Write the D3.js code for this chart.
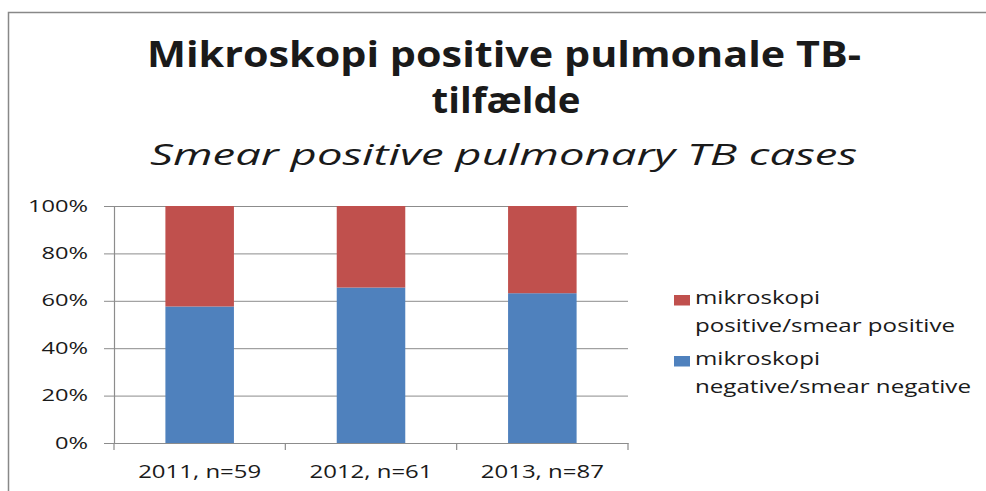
<!DOCTYPE html>
<html>
<head>
<meta charset="utf-8">
<script src="https://cdn.jsdelivr.net/npm/d3@7"></script>
<style>
  html, body { margin: 0; overflow: hidden; background: #fff; }
  svg { display: block; }
  text { font-family: "Open Sans", sans-serif; fill: #1a1a1a; }
</style>
</head>
<body>
<div id="chart"></div>
<script>
// data (share of cases per year)
var years = ["2011, n=59", "2012, n=61", "2013, n=87"];
var negativeShare = [0.576, 0.656, 0.632];
var positiveShare = [0.424, 0.344, 0.368];
var seriesNames = ["mikroskopi negative/smear negative", "mikroskopi positive/smear positive"];
var tickValues = [0, 0.2, 0.4, 0.6, 0.8, 1];

var width = 986, height = 491;
var plot = { left: 114, right: 628, top: 206, bottom: 443 };
var colors = { neg: "#4f81bd", pos: "#c0504d", grid: "#8c8c8c" };

var svg = d3.select("#chart")
  .append("svg")
  .attr("width", width)
  .attr("height", height);

// stretch text sideways, the picture is wider than tall
function stretch(sel, k) {
  sel.each(function() {
    var w = this.getComputedTextLength();
    d3.select(this).attr("textLength", w * k).attr("lengthAdjust", "spacingAndGlyphs");
  });
}
function factor(sel, target) {
  return target / sel.node().getComputedTextLength();
}

// chart border, only top and left edges are inside the picture
svg.append("path")
  .attr("d", d3.line()([[8.5, height], [8.5, 12.5], [width, 12.5]]))
  .attr("fill", "none")
  .attr("stroke", "#888")
  .attr("stroke-width", 1.5);

// titles
var t1 = svg.append("text")
  .attr("x", 504).attr("y", 66.5)
  .attr("text-anchor", "middle")
  .style("font-size", "35px").style("font-weight", "bold")
  .text("Mikroskopi positive pulmonale TB-");
stretch(t1, factor(t1, 714));

var t2 = svg.append("text")
  .attr("x", 506).attr("y", 113)
  .attr("text-anchor", "middle")
  .style("font-size", "35px").style("font-weight", "bold")
  .text("tilfælde");
stretch(t2, factor(t2, 149));

var t3 = svg.append("text")
  .attr("x", 503.5).attr("y", 165)
  .attr("text-anchor", "middle")
  .style("font-size", "30px").style("font-style", "italic")
  .text("Smear positive pulmonary TB cases");
stretch(t3, factor(t3, 707));

// scales
var x = d3.scaleBand()
  .domain(years)
  .range([plot.left, plot.right])
  .paddingInner(0.6)
  .paddingOuter(0.3);

var y = d3.scaleLinear()
  .domain([0, 1])
  .range([plot.bottom, plot.top]);

// gridlines
svg.append("g")
  .attr("class", "grid")
  .attr("transform", "translate(" + plot.left + ",0)")
  .call(d3.axisLeft(y)
    .tickValues(tickValues)
    .tickSize(-(plot.right - plot.left))
    .tickFormat(""))
  .call(function(g) {
    g.select(".domain").remove();
    g.selectAll("line").attr("stroke", colors.grid);
  });

// y axis
var yAxis = svg.append("g")
  .attr("transform", "translate(" + plot.left + ",0)")
  .call(d3.axisLeft(y)
    .tickValues(tickValues)
    .tickSize(10)
    .tickSizeOuter(0)
    .tickPadding(16)
    .tickFormat(d3.format(".0%")));
yAxis.select(".domain").attr("stroke", colors.grid).attr("stroke-width", 1.2);
yAxis.selectAll("line").attr("stroke", colors.grid);
yAxis.selectAll("text")
  .style("font-size", "16px")
  .style("font-family", "\"Open Sans\", sans-serif")
  .attr("fill", "#1a1a1a");
var kTick = factor(yAxis.selectAll("text").filter(function(d) { return d === 1; }), 60);
stretch(yAxis.selectAll("text"), kTick);

// x axis: labels in band centres, ticks on band edges
var xAxis = svg.append("g")
  .attr("transform", "translate(0," + plot.bottom + ")")
  .call(d3.axisBottom(x).tickSize(0).tickPadding(22));
xAxis.select(".domain").attr("stroke", colors.grid);
xAxis.selectAll("text")
  .style("font-size", "18px")
  .style("font-family", "\"Open Sans\", sans-serif")
  .attr("fill", "#1a1a1a");
var kCat = factor(xAxis.selectAll("text").filter(function(d) { return d === years[1]; }), 123);
stretch(xAxis.selectAll("text"), kCat);

xAxis.selectAll(".edge")
  .data(d3.range(years.length + 1))
  .enter().append("line")
  .attr("class", "edge")
  .attr("x1", function(i) { return plot.left + i * x.step(); })
  .attr("x2", function(i) { return plot.left + i * x.step(); })
  .attr("y1", 0).attr("y2", 7)
  .attr("stroke", colors.grid)
  .attr("stroke-width", 1.2);

// stacked bars
var rows = years.map(function(d, i) {
  return { year: d, neg: negativeShare[i], pos: positiveShare[i] };
});
var stack = d3.stack().keys(["neg", "pos"])(rows);

svg.append("g")
  .selectAll("g")
  .data(stack)
  .enter().append("g")
  .attr("fill", function(d) { return colors[d.key]; })
  .selectAll("rect")
  .data(function(d) { return d; })
  .enter().append("rect")
  .attr("x", function(d) { return x(d.data.year); })
  .attr("width", x.bandwidth())
  .attr("y", function(d) { return y(d[1]); })
  .attr("height", function(d) { return y(d[0]) - y(d[1]); });

// legend (positive on top, as in the picture)
var legendItems = [
  { color: colors.pos, lines: ["mikroskopi", "positive/smear positive"], y: 295 },
  { color: colors.neg, lines: ["mikroskopi", "negative/smear negative"], y: 356 }
];

var legend = svg.append("g").attr("class", "legend");
var item = legend.selectAll(".item")
  .data(legendItems)
  .enter().append("g")
  .attr("class", "item")
  .attr("transform", function(d) { return "translate(674," + d.y + ")"; });

item.append("rect")
  .attr("width", 16).attr("height", 10.5)
  .attr("fill", function(d) { return d.color; });

item.selectAll("text")
  .data(function(d) { return d.lines; })
  .enter().append("text")
  .attr("x", 21)
  .attr("y", function(d, i) { return 9 + i * 28; })
  .style("font-size", "18px")
  .text(function(d) { return d; });

var kLeg = factor(legend.selectAll("text").filter(function(d) { return d === "positive/smear positive"; }), 260);
stretch(legend.selectAll("text"), kLeg);
</script>
</body>
</html>
